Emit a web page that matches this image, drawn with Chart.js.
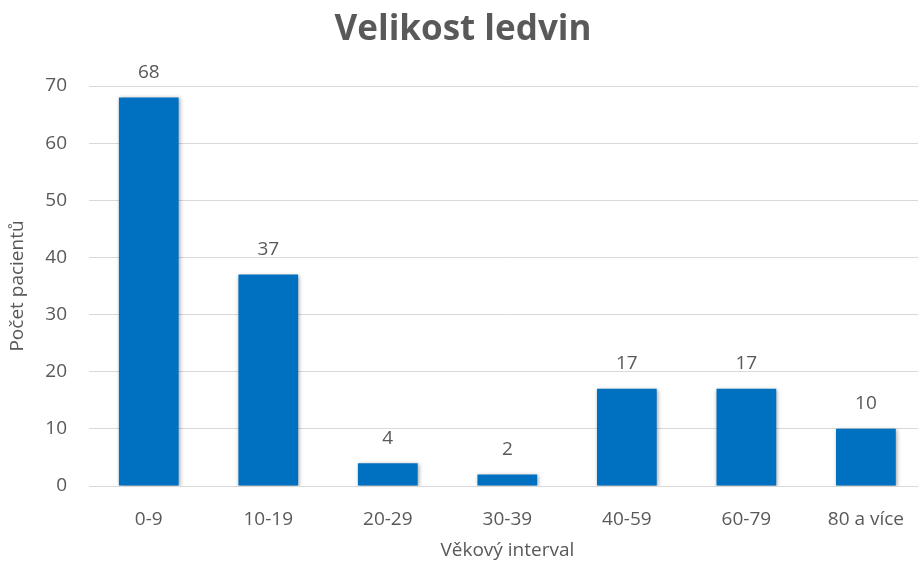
<!DOCTYPE html>
<html>
<head>
<meta charset="utf-8">
<script src="https://cdn.jsdelivr.net/npm/chart.js@4/dist/chart.umd.min.js"></script>
<style>
  html, body { margin: 0; padding: 0; background: #fff; overflow: hidden; }
  /* the original is a crop: the plot runs a little past the right edge */
  #wrap { width: 926px; height: 564px; }
</style>
</head>
<body>
<div id="wrap"><canvas id="chart"></canvas></div>
<script>
// ---------- Data ----------
const categories = ['0-9', '10-19', '20-29', '30-39', '40-59', '60-79', '80 a více'];
const patientCounts = [68, 37, 4, 2, 17, 17, 10];
const yTicks = [0, 10, 20, 30, 40, 50, 60, 70];
const xTitle = 'Věkový interval';

const textColor = '#595959';
const gridColor = '#d9d9d9';
const barColor = '#0070c0';
const fontFamily = '"Open Sans", "Liberation Sans", sans-serif';

// value labels above the bars
const valueLabels = {
  id: 'valueLabels',
  afterDatasetsDraw(chart) {
    const ctx = chart.ctx;
    const meta = chart.getDatasetMeta(0);
    ctx.save();
    ctx.fillStyle = textColor;
    ctx.font = '19px ' + fontFamily;
    ctx.textAlign = 'center';
    ctx.textBaseline = 'middle';
    meta.data.forEach((bar, i) => {
      ctx.fillText(String(chart.data.datasets[0].data[i]), bar.x, bar.y - 25);
    });
    // x axis title, centred under the plot area
    const area = chart.chartArea;
    ctx.fillText(xTitle, (area.left + area.right) / 2, area.bottom + 65);
    ctx.restore();
  }
};

// soft shadow on the bars, like the office original
const barShadow = {
  id: 'barShadow',
  beforeDatasetDraw(chart) {
    const ctx = chart.ctx;
    ctx.save();
    ctx.shadowColor = 'rgba(0,0,0,0.35)';
    ctx.shadowBlur = 4;
    ctx.shadowOffsetX = 1;
    ctx.shadowOffsetY = 1;
  },
  afterDatasetDraw(chart) { chart.ctx.restore(); }
};

new Chart(document.getElementById('chart'), {
  type: 'bar',
  data: {
    labels: categories,
    datasets: [{
      label: 'Počet pacientů',
      data: patientCounts,
      backgroundColor: barColor,
      categoryPercentage: 1,
      barPercentage: 0.5,
    }]
  },
  options: {
    responsive: true,
    maintainAspectRatio: false,
    animation: false,
    layout: { padding: { left: 0, right: 0, top: 0, bottom: 0 } },
    plugins: {
      legend: { display: false },
      tooltip: { enabled: false },
      title: {
        display: true,
        text: 'Velikost ledvin',
        color: textColor,
        font: { family: fontFamily, size: 35, weight: 'bold' },
        padding: { top: 9, bottom: 35 }
      }
    },
    scales: {
      x: {
        afterFit: (axis) => { axis.height = 78; },
        grid: { display: false, drawTicks: false },
        border: { display: true, color: gridColor, width: 1 },
        ticks: { color: textColor, font: { family: fontFamily, size: 19 }, padding: 22 },
        title: { display: false }
      },
      y: {
        min: 0, max: 70,
        afterFit: (axis) => { axis.width = 89; },
        afterBuildTicks: (axis) => { axis.ticks = yTicks.map(v => ({ value: v })); },
        grid: { color: gridColor, drawTicks: false },
        border: { display: false },
        ticks: { color: textColor, font: { family: fontFamily, size: 19 }, padding: 22 },
        title: {
          display: true, text: 'Počet pacientů', color: textColor,
          font: { family: fontFamily, size: 19 }, padding: { top: 6, bottom: 0 }
        }
      }
    }
  },
  plugins: [barShadow, valueLabels]
});
</script>
</body>
</html>
